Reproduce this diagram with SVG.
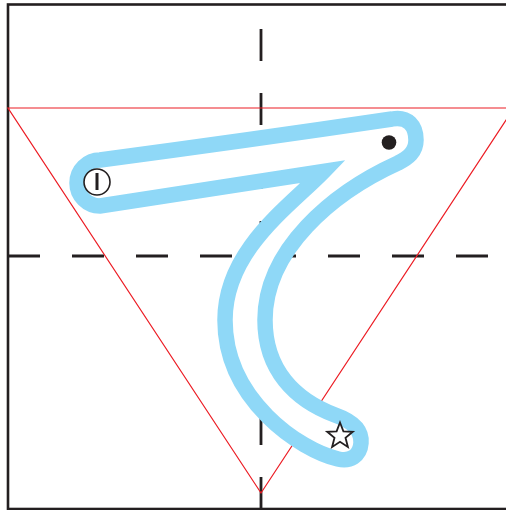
<svg xmlns="http://www.w3.org/2000/svg" width="506" height="510" viewBox="0 0 506 510">
<style>
.ink{stroke:#231f20;fill:none}
.dash{stroke:#231f20;stroke-width:2.8;stroke-dasharray:32 32}
.guide{stroke:#ec1c24;stroke-width:1.2;fill:none}
.band{stroke:#8fd8f7;stroke-width:15.5;fill:#ffffff;stroke-linejoin:miter;stroke-miterlimit:12}
</style>
<rect id="frame" class="ink" x="8" y="4.5" width="505" height="504.5" stroke-width="2.6"/>
<g id="grid">
<line class="dash" x1="8" y1="256" x2="506" y2="256"/>
<line class="dash" x1="261" y1="29" x2="261" y2="510"/>
</g>
<polygon id="triangle" class="guide" points="8,108 514,108 261,493"/>
<g id="stroke-outline">
<path class="band" d="M323.5 171.5 Q220 187 100 206 A23 23 0 0 1 100 160 Q250 140 392 119 C408 116 416 126 416 140 C416 152 408 158 398 163 C332 193 265 250 265 320 C265 370 295 400 335 415 C352 421 362 430 361 443 C360 456 350 462 338 459 C300 450 225 400 225 320 C225 250 290 206 323.5 171.5 Z"/>
</g>
<g id="start-mark">
<circle cx="97" cy="182" r="13" fill="#ffffff" stroke="#231f20" stroke-width="1.6"/>
<rect x="95.5" y="173" width="3" height="17" fill="#231f20"/>
</g>
<circle id="turn-dot" cx="389" cy="142.5" r="7.3" fill="#231f20"/>
<polygon id="end-star" fill="#ffffff" stroke="#231f20" stroke-width="1.8" stroke-linejoin="miter" points="340,422.5 343.4,431.3 352.8,431.8 345.5,437.8 347.9,446.9 340,441.8 332.1,446.9 334.5,437.8 327.2,431.8 336.6,431.3"/>
</svg>
